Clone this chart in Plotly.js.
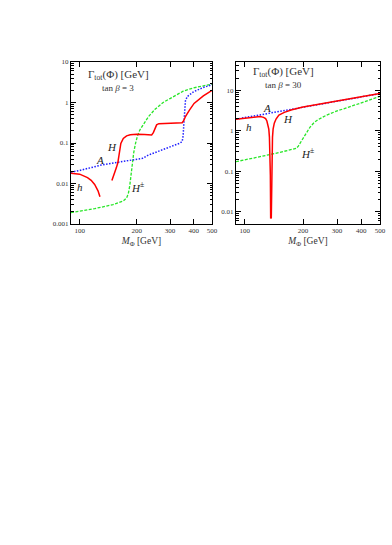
<!DOCTYPE html>
<html>
<head>
<meta charset="utf-8">
<script src="https://cdn.plot.ly/plotly-3.0.1.min.js"></script>
<style>
  html, body { margin: 0; padding: 0; background: #fff; }
  #plot { width: 392px; height: 545px; }
</style>
</head>
<body>
<div id="plot"></div>
<script>
// tan beta = 3 (left panel)
var h3_m = [90, 100, 110, 115, 120, 125, 128];
var h3_w = [0.018, 0.017, 0.014, 0.012, 0.0095, 0.0066, 0.0047];

var H3_m = [148, 152, 156, 159, 162, 165, 170, 177, 185, 200, 220, 240, 245, 250, 255, 262, 300, 348, 355, 362, 380, 402, 450, 500];
var H3_w = [0.0118, 0.016, 0.024, 0.032, 0.055, 0.098, 0.13, 0.15, 0.16, 0.165, 0.162, 0.158, 0.18, 0.24, 0.28, 0.30, 0.31, 0.316, 0.36, 0.45, 0.65, 0.95, 1.45, 2.0];

var A3_m = [90, 100, 130, 160, 200, 215, 230, 260, 300, 340, 348, 352, 355, 358, 362, 370, 400, 450, 500];
var A3_w = [0.019, 0.021, 0.0285, 0.033, 0.039, 0.042, 0.05, 0.063, 0.08, 0.1, 0.11, 0.15, 0.3, 0.7, 1.1, 1.4, 1.85, 2.35, 2.75];

var Hp3_m = [90, 100, 120, 150, 170, 177, 181, 184, 187, 190, 193, 197, 202, 208, 220, 231, 250, 276, 300, 352, 400, 450, 500];
var Hp3_w = [0.0019, 0.00205, 0.0024, 0.003, 0.0037, 0.0044, 0.0058, 0.009, 0.017, 0.033, 0.058, 0.095, 0.15, 0.21, 0.33, 0.45, 0.68, 1.0, 1.25, 1.9, 2.3, 2.6, 2.85];

// tan beta = 30 (right panel)
var h30_m = [90, 100, 110, 120, 125, 128, 130, 132, 133, 134, 135, 135.5, 136];
var h30_w = [1.94, 2.08, 2.2, 2.25, 2.15, 2.0, 1.75, 1.35, 1.1, 0.7, 0.3, 0.08, 0.0068];

var H30_m = [137, 137.5, 138, 139, 140, 142, 145, 150, 160, 175, 200, 250, 300, 400, 500];
var H30_w = [0.0068, 0.08, 0.3, 0.7, 1.1, 1.55, 1.95, 2.45, 2.85, 3.3, 3.85, 4.7, 5.5, 6.9, 8.3];

var A30_m = [90, 100, 120, 150, 200, 250, 300, 400, 500];
var A30_w = [1.94, 2.12, 2.47, 3.0, 3.85, 4.7, 5.5, 6.9, 8.3];

var Hp30_m = [90, 100, 120, 150, 180, 185, 189, 193, 200, 208, 217, 228, 240, 264, 300, 348, 400, 450, 500];
var Hp30_w = [0.173, 0.19, 0.23, 0.29, 0.35, 0.37, 0.42, 0.49, 0.65, 0.9, 1.22, 1.6, 1.9, 2.43, 3.1, 3.9, 4.9, 6.0, 7.1];

var xTicks = [100, 200, 300, 400, 500];
var yTicks3 = [0.001, 0.01, 0.1, 1, 10];
var yTicks3Text = ['0.001', '0.01', '0.1', '1', '10'];
var yTicks30 = [0.01, 0.1, 1, 10];
var yTicks30Text = ['0.01', '0.1', '1', '10'];

var RED = 'rgb(255,0,0)';
var BLUE = 'rgb(30,30,255)';
var GREEN = 'rgb(40,230,40)';

function minorVals(lo, hi) {
  var out = [];
  for (var d = lo; d < hi; d++) {
    for (var k = 2; k <= 9; k++) out.push(k * Math.pow(10, d));
  }
  return out;
}

function line(x, y, color, dash, xa, ya, w) {
  return {
    x: x, y: y, xaxis: xa, yaxis: ya, type: 'scatter', mode: 'lines',
    line: {color: color, dash: dash, width: w || 1.4},
    showlegend: false, hoverinfo: 'skip'
  };
}

var data = [
  line(Hp3_m, Hp3_w, GREEN, '3px,1.5px', 'x', 'y', 1.3),
  line(A3_m, A3_w, BLUE, '1.5px,1.5px', 'x', 'y', 1.5),
  line(h3_m, h3_w, RED, 'solid', 'x', 'y', 1.5),
  line(H3_m, H3_w, RED, 'solid', 'x', 'y', 1.5),
  line(Hp30_m, Hp30_w, GREEN, '3px,1.5px', 'x2', 'y2', 1.3),
  line(A30_m, A30_w, BLUE, '1.5px,1.5px', 'x2', 'y2', 1.5),
  line(h30_m, h30_w, RED, 'solid', 'x2', 'y2', 1.5),
  line(H30_m, H30_w, RED, 'solid', 'x2', 'y2', 1.5)
];

var font = {family: 'Liberation Serif, DejaVu Serif, serif', color: '#222'};

function xaxis(domain, anchor) {
  return {
    type: 'log', range: [Math.log10(90), Math.log10(500)], domain: domain, anchor: anchor,
    tickvals: xTicks, ticktext: xTicks.map(String), ticks: 'inside', ticklen: 5,
    tickwidth: 0.8, tickcolor: '#000', mirror: 'allticks', showline: true,
    linecolor: '#000', linewidth: 1, showgrid: false, zeroline: false,
    tickfont: {family: font.family, size: 7, color: '#333'},
    title: {text: '<i>M</i><sub>Φ</sub> [GeV]', font: {family: font.family, size: 9.5, color: '#333'}, standoff: 2},
    automargin: false
  };
}

function yaxis(range, vals, text, anchor, lo, hi) {
  return {
    type: 'log', range: range, domain: [1 - 224 / 545, 1 - 62 / 545], anchor: anchor,
    tickvals: vals, ticktext: text, ticks: 'inside', ticklen: 5,
    tickwidth: 0.8, tickcolor: '#000', mirror: 'allticks', showline: true,
    linecolor: '#000', linewidth: 1, showgrid: false, zeroline: false,
    tickfont: {family: font.family, size: 7, color: '#333'},
    minor: {tickvals: minorVals(lo, hi), ticks: 'inside', ticklen: 2.5, tickwidth: 0.6, tickcolor: '#000'},
    automargin: false
  };
}

function lab(txt, xr, yr, m, w, size) {
  return {
    text: txt, xref: xr, yref: yr, x: Math.log10(m), y: Math.log10(w),
    xanchor: 'center', yanchor: 'middle',
    showarrow: false, font: {family: font.family, size: size || 11, color: '#222'}
  };
}

function note(txt, x, y, size) {
  return {
    text: txt, xref: 'paper', yref: 'paper', x: x / 392, y: 1 - y / 545,
    xanchor: 'center', yanchor: 'middle',
    showarrow: false, font: {family: font.family, size: size, color: '#333'}
  };
}

var layout = {
  width: 392, height: 545,
  margin: {l: 0, r: 0, t: 0, b: 0},
  paper_bgcolor: '#fff', plot_bgcolor: '#fff',
  xaxis: xaxis([71 / 392, 212 / 392], 'y'),
  yaxis: yaxis([-3, 1], yTicks3, yTicks3Text, 'x', -3, 1),
  xaxis2: xaxis([236 / 392, 380 / 392], 'y2'),
  yaxis2: yaxis([Math.log10(0.005), Math.log10(50)], yTicks30, yTicks30Text, 'x2', -3, 2),
  annotations: [
    note('Γ<sub>tot</sub>(Φ) [GeV]', 118, 75, 11),
    note('tan <i>β</i> = 3', 118, 88, 9),
    note('Γ<sub>tot</sub>(Φ) [GeV]', 283, 72, 11),
    note('tan <i>β</i> = 30', 283, 85, 9),
    lab('<i>H</i>', 'x', 'y', 149, 0.081),
    lab('<i>A</i>', 'x', 'y', 128, 0.038),
    lab('<i>h</i>', 'x', 'y', 101, 0.0083),
    lab('<i>H</i><sup>±</sup>', 'x', 'y', 202, 0.0083),
    lab('<i>A</i>', 'x2', 'y2', 130, 3.7),
    lab('<i>h</i>', 'x2', 'y2', 104.5, 1.23),
    lab('<i>H</i>', 'x2', 'y2', 168, 1.94),
    lab('<i>H</i><sup>±</sup>', 'x2', 'y2', 212, 0.28)
  ]
};

Plotly.newPlot('plot', data, layout, {displayModeBar: false});
</script>
</body>
</html>
